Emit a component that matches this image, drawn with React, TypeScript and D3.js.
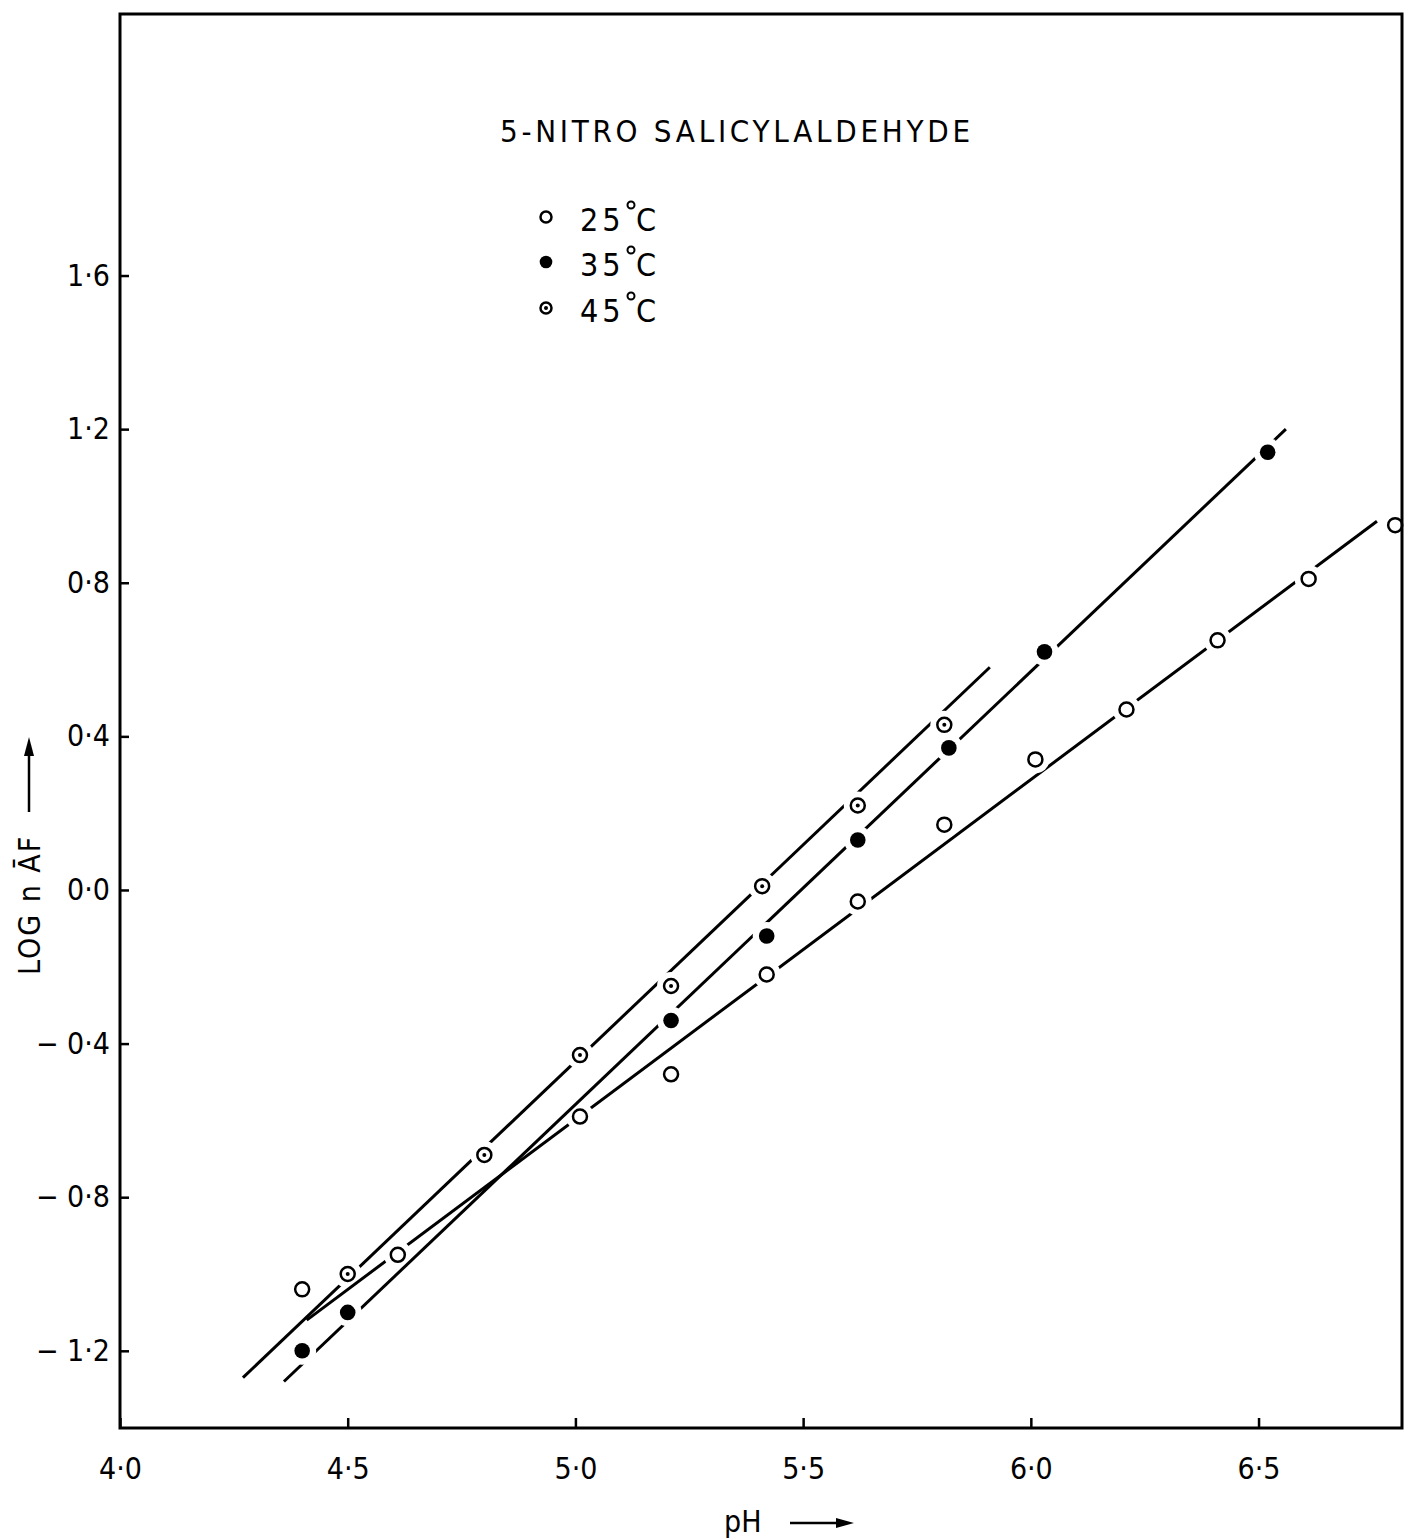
import * as d3 from 'd3';
import React, { useEffect, useRef } from 'react';

const phTicks = [4.0, 4.5, 5.0, 5.5, 6.0, 6.5];
const logTicks = [-1.2, -0.8, -0.4, 0.0, 0.4, 0.8, 1.2, 1.6];

const ph25 = [4.40, 4.61, 5.01, 5.21, 5.42, 5.62, 5.81, 6.01, 6.21, 6.41, 6.61, 6.80];
const log25 = [-1.04, -0.95, -0.59, -0.48, -0.22, -0.03, 0.17, 0.34, 0.47, 0.65, 0.81, 0.95];
const ph35 = [4.40, 4.50, 5.21, 5.42, 5.62, 5.82, 6.03, 6.52];
const log35 = [-1.20, -1.10, -0.34, -0.12, 0.13, 0.37, 0.62, 1.14];
const ph45 = [4.50, 4.80, 5.01, 5.21, 5.41, 5.62, 5.81];
const log45 = [-1.00, -0.69, -0.43, -0.25, 0.01, 0.22, 0.43];

// straight lines drawn through each set, [pH, log] at both ends
const line25 = [[4.41, -1.12], [6.76, 0.96]];
const line35 = [[4.36, -1.28], [6.56, 1.20]];
const line45 = [[4.27, -1.27], [5.91, 0.58]];

const series = [
  { key: '25', ph: ph25, log: log25, line: line25, marker: 'open' },
  { key: '35', ph: ph35, log: log35, line: line35, marker: 'filled' },
  { key: '45', ph: ph45, log: log45, line: line45, marker: 'dotted' },
];

const FONT = '"DejaVu Sans Condensed", "DejaVu Sans", sans-serif';

const drawMarker = (g, type, x, y, r) => {
  if (type === 'filled') {
    g.append('circle').attr('cx', x).attr('cy', y).attr('r', r + 0.8).attr('fill', '#000');
    return;
  }
  g.append('circle').attr('cx', x).attr('cy', y).attr('r', r).attr('fill', '#fff').attr('stroke', '#000').attr('stroke-width', 2.5);
  if (type === 'dotted') {
    g.append('circle').attr('cx', x).attr('cy', y).attr('r', 2).attr('fill', '#000');
  }
};

const App = () => {
  const ref = useRef<SVGSVGElement | null>(null);

  useEffect(() => {
    if (!ref.current) return;
    const svg = d3.select(ref.current);
    svg.selectAll('*').remove();

    const x = d3.scaleLinear().domain([4.0, 6.815]).range([120, 1402]);
    const y = d3.scaleLinear().domain([-1.401, 2.281]).range([1428, 14]);

    svg.append('rect').attr('width', 1405).attr('height', 1539).attr('fill', '#fff');

    // masks that break each line around its own points
    const defs = svg.append('defs');
    series.forEach((s) => {
      const m = defs.append('mask').attr('id', `gap${s.key}`).attr('maskUnits', 'userSpaceOnUse')
        .attr('x', 0).attr('y', 0).attr('width', 1405).attr('height', 1539);
      m.append('rect').attr('width', 1405).attr('height', 1539).attr('fill', '#fff');
      s.ph.forEach((p, i) => {
        m.append('circle').attr('cx', x(p)).attr('cy', y(s.log[i])).attr('r', 14).attr('fill', '#000');
      });
    });

    const lineGen = d3.line<number[]>().x((d) => x(d[0])).y((d) => y(d[1]));
    series.forEach((s) => {
      svg.append('path').attr('d', lineGen(s.line)).attr('fill', 'none').attr('stroke', '#000')
        .attr('stroke-width', 3).attr('mask', `url(#gap${s.key})`);
    });

    series.forEach((s) => {
      const g = svg.append('g');
      s.ph.forEach((p, i) => drawMarker(g, s.marker, x(p), y(s.log[i]), 7));
    });

    // frame
    svg.append('rect').attr('x', 120).attr('y', 14).attr('width', 1282).attr('height', 1414)
      .attr('fill', 'none').attr('stroke', '#000').attr('stroke-width', 3);

    const fmt = (v) => {
      const s = Math.abs(v).toFixed(1).replace('.', '·');
      return v < 0 ? `− ${s}` : s;
    };

    const yAxis = svg.append('g').attr('transform', 'translate(120,0)')
      .call(d3.axisLeft(y).tickValues(logTicks).tickSize(-9).tickPadding(10).tickFormat(fmt));
    yAxis.select('.domain').remove();
    yAxis.selectAll('line').attr('stroke', '#000').attr('stroke-width', 2.5);
    yAxis.selectAll('text').attr('fill', '#000').style('font-family', FONT).style('font-size', '30px');

    const xAxis = svg.append('g').attr('transform', 'translate(0,1428)')
      .call(d3.axisBottom(x).tickValues(phTicks).tickSize(-10).tickPadding(30).tickFormat(fmt));
    xAxis.select('.domain').remove();
    xAxis.selectAll('line').attr('stroke', '#000').attr('stroke-width', 2.5);
    xAxis.selectAll('text').attr('fill', '#000').style('font-family', FONT).style('font-size', '30px');

    // axis titles
    svg.append('text').attr('x', 724).attr('y', 1532).attr('font-family', FONT).attr('font-size', 30).text('pH');
    svg.append('line').attr('x1', 790).attr('x2', 840).attr('y1', 1523).attr('y2', 1523).attr('stroke', '#000').attr('stroke-width', 2.5);
    svg.append('path').attr('d', 'M854,1523 L836,1518 L836,1528 Z').attr('fill', '#000');

    svg.append('text').attr('transform', 'translate(40,975) rotate(-90)').attr('font-family', FONT)
      .attr('font-size', 30).attr('letter-spacing', 2).text('LOG n ĀF');
    svg.append('line').attr('x1', 29).attr('x2', 29).attr('y1', 812).attr('y2', 752).attr('stroke', '#000').attr('stroke-width', 2.5);
    svg.append('path').attr('d', 'M29,737 L24,756 L34,756 Z').attr('fill', '#000');

    // title
    svg.append('text').attr('x', 500).attr('y', 142).attr('font-family', FONT).attr('font-size', 31)
      .attr('textLength', 470).attr('lengthAdjust', 'spacing').text('5-NITRO SALICYLALDEHYDE');

    // legend
    const legendY = [217, 262, 308];
    series.forEach((s, i) => {
      const g = svg.append('g');
      drawMarker(g, s.marker, 546, legendY[i], 5.5);
      g.append('text').attr('x', 580).attr('y', legendY[i] + 14).attr('font-family', FONT).attr('font-size', 32)
        .attr('letter-spacing', 4).text(s.key);
      g.append('circle').attr('cx', 631).attr('cy', legendY[i] - 12).attr('r', 3.5).attr('fill', 'none')
        .attr('stroke', '#000').attr('stroke-width', 2);
      g.append('text').attr('x', 636).attr('y', legendY[i] + 14).attr('font-family', FONT).attr('font-size', 32).text('C');
    });
  }, []);

  return (
    <div style={{ position: 'absolute', left: 0, top: 0 }}>
      <svg ref={ref} width={1405} height={1539} style={{ display: 'block' }} />
    </div>
  );
};

export default App;
